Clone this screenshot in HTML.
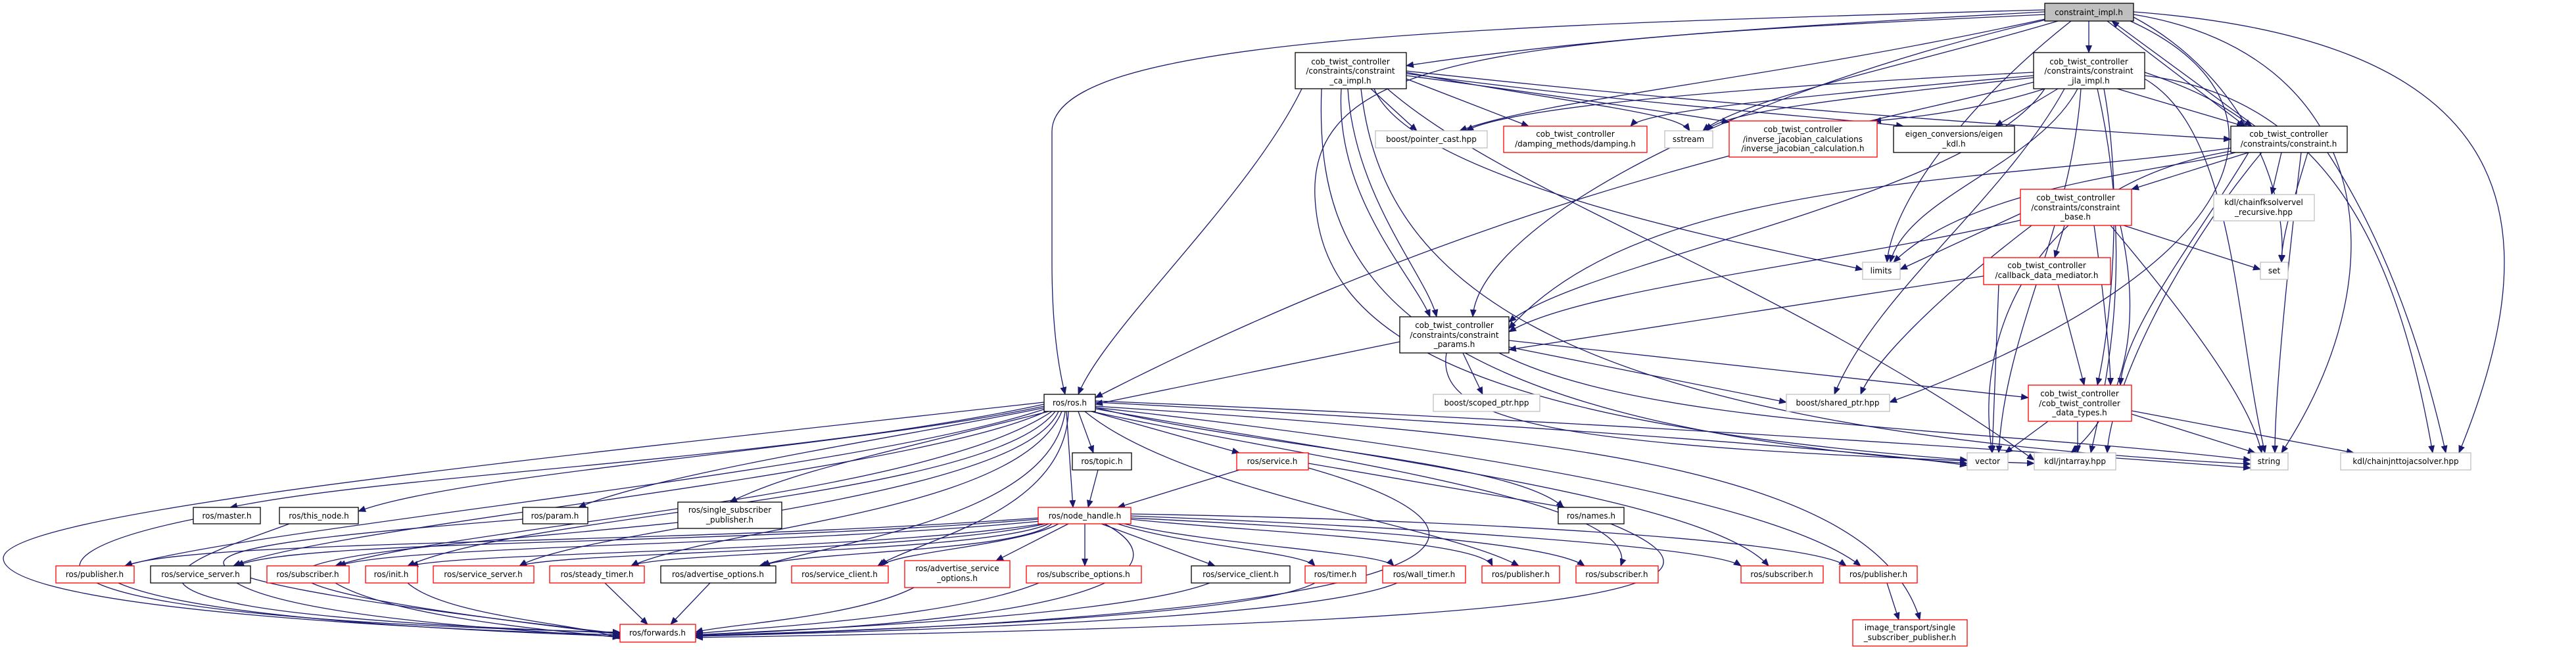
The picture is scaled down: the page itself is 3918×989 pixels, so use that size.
<!DOCTYPE html>
<html><head><meta charset="utf-8"><style>
html,body{margin:0;padding:0;background:#fff;width:3918px;height:989px;overflow:hidden}
svg{display:block}
text{font-family:"DejaVu Sans","Liberation Sans",sans-serif;font-size:12px;fill:#000;text-anchor:middle}
.e{fill:none;stroke:#191970;stroke-width:1.3;marker-end:url(#a)}
.b{fill:#fff;stroke:#000;stroke-width:1.3}
.r{fill:#fff;stroke:#f00;stroke-width:1.3}
.g{fill:#fff;stroke:#bfbfbf;stroke-width:1.3}
</style></head><body>
<svg width="3918" height="989" viewBox="0 0 3918 989" xmlns="http://www.w3.org/2000/svg">
<defs><marker id="a" markerUnits="userSpaceOnUse" markerWidth="12" markerHeight="10" refX="11" refY="5" orient="auto"><path d="M0,0 L12,5 L0,10 z" fill="#191970"/></marker></defs>
<g>
<!-- root edges -->
<path class="e" d="M3110,18 C2700,40 2400,60 2139,100"/>
<path class="e" d="M3177,32 L3177,80"/>
<path class="e" d="M3110,15 C2200,40 1600,60 1600,200 L1600,400 C1600,500 1610,560 1620,600"/>
<path class="e" d="M3115,28 C2700,120 2350,150 2220,199"/>
<path class="e" d="M3130,32 C2900,100 2650,150 2590,199"/>
<path class="e" d="M3205,32 L3415,192"/>
<path class="e" d="M3430,192 L3212,32"/>
<path class="e" d="M3112,30 C2600,150 2250,350 2240,482"/>
<path class="e" d="M3240,32 C3500,150 3450,400 2874,612"/>
<path class="e" d="M3245,22 C3600,80 3660,400 3470,689"/>
<path class="e" d="M3245,18 C3800,60 3900,300 3740,689"/>
<path class="e" d="M3245,26 C3420,120 3480,300 3470,399"/>
<path class="e" d="M3150,32 C3000,150 2880,300 2870,399"/>
<path class="e" d="M3112,22 C2300,60 1990,80 2000,300 C2010,500 2200,640 2992,700"/>
<!-- ca_impl -->
<path class="e" d="M2085,135 L2155,199"/>
<path class="e" d="M2139,120 L2325,192"/>
<path class="e" d="M2139,110 C2400,160 2550,170 2570,199"/>
<path class="e" d="M2139,115 C2400,150 2600,180 2630,186"/>
<path class="e" d="M2139,112 C2500,160 2800,180 2895,192"/>
<path class="e" d="M2139,108 C2700,170 3200,200 3393,212"/>
<path class="e" d="M1980,135 C1900,300 1680,500 1640,600"/>
<path class="e" d="M2040,135 C2030,300 2150,420 2175,482"/>
<path class="e" d="M2050,135 C2060,300 2170,420 2185,482"/>
<path class="e" d="M2090,135 C2150,280 2700,380 2833,410"/>
<path class="e" d="M2110,135 C2300,300 2700,420 3094,700"/>
<path class="e" d="M2010,135 C2000,400 2100,640 2992,705"/>
<path class="e" d="M2070,135 C2100,400 2300,650 3423,706"/>
<!-- jla_impl -->
<path class="e" d="M3093,110 C2700,130 2300,160 2230,199"/>
<path class="e" d="M3093,115 C2700,150 2500,170 2480,192"/>
<path class="e" d="M3093,118 C2800,150 2620,170 2595,199"/>
<path class="e" d="M3110,135 C3000,170 2900,180 2850,184"/>
<path class="e" d="M3130,135 L3035,192"/>
<path class="e" d="M3220,135 L3413,192"/>
<path class="e" d="M3262,110 C3350,140 3380,160 3425,192"/>
<path class="e" d="M3160,135 C3100,250 2900,300 2875,399"/>
<path class="e" d="M3110,135 C3000,300 2400,400 2295,490"/>
<path class="e" d="M3140,135 C3050,300 2850,450 2790,600"/>
<path class="e" d="M3165,135 C3150,350 3050,500 3040,689"/>
<path class="e" d="M3190,135 C3250,400 3200,600 3180,689"/>
<path class="e" d="M3262,120 C3400,200 3400,500 3445,689"/>
<path class="e" d="M3262,115 C3550,150 3650,400 3700,689"/>
<path class="e" d="M3093,125 C2800,200 2300,280 1666,605"/>
<path class="e" d="M3200,135 C3230,300 3210,500 3190,586"/>
<!-- constraint.h -->
<path class="e" d="M3420,232 L3242,288"/>
<path class="e" d="M3470,232 L3455,296"/>
<path class="e" d="M3400,232 C3300,260 3000,280 2880,399"/>
<path class="e" d="M3510,232 C3490,300 3470,360 3470,399"/>
<path class="e" d="M3500,232 C3480,400 3460,600 3460,689"/>
<path class="e" d="M3540,232 C3650,400 3700,600 3720,689"/>
<path class="e" d="M3420,232 C3350,350 3230,500 3225,586"/>
<path class="e" d="M3395,225 C3000,280 2500,270 2295,500"/>
<path class="e" d="M3393,230 C3100,280 3000,500 3030,689"/>
<path class="e" d="M3440,232 C3300,400 3210,600 3205,689"/>
<!-- constraint_base -->
<path class="e" d="M3073,325 L2890,410"/>
<path class="e" d="M3140,343 L3125,392"/>
<path class="e" d="M3230,343 L3438,410"/>
<path class="e" d="M3073,335 C2800,400 2400,440 2295,505"/>
<path class="e" d="M3090,343 C2950,450 2850,550 2830,600"/>
<path class="e" d="M3185,343 C3200,450 3210,550 3210,586"/>
<path class="e" d="M3210,343 C3300,450 3420,600 3440,689"/>
<path class="e" d="M3225,343 C3260,500 3230,620 3150,689"/>
<!-- callback -->
<path class="e" d="M3017,420 L2295,532"/>
<path class="e" d="M3130,433 L3170,586"/>
<path class="e" d="M3040,433 L3030,689"/>
<!-- params -->
<path class="e" d="M2129,520 L1666,615"/>
<path class="e" d="M2225,537 L2255,600"/>
<path class="e" d="M2295,528 L2717,612"/>
<path class="e" d="M2295,518 L3085,605"/>
<path class="e" d="M2280,537 C2500,650 3000,650 3423,700"/>
<path class="e" d="M2200,537 C2180,650 2400,680 3094,705"/>
<!-- data types -->
<path class="e" d="M3115,641 L3050,689"/>
<path class="e" d="M3160,641 L3160,689"/>
<path class="e" d="M3242,630 L3430,689"/>
<path class="e" d="M3242,625 L3580,689"/>
<!-- ros.h -->
<path class="e" d="M1588,615 C1200,700 600,720 350,772"/>
<path class="e" d="M1588,618 C1300,680 700,720 545,778"/>
<path class="e" d="M1590,620 C1400,660 1000,720 880,772"/>
<path class="e" d="M1595,626 C1300,700 1200,720 1110,764"/>
<path class="e" d="M1622,626 L1632,772"/>
<path class="e" d="M1640,626 L1663,689"/>
<path class="e" d="M1660,626 L1885,689"/>
<path class="e" d="M1666,620 C1900,680 2300,700 2378,772"/>
<path class="e" d="M1590,622 C1300,720 400,800 190,861"/>
<path class="e" d="M1595,624 C1400,720 500,800 355,861"/>
<path class="e" d="M1600,626 C1400,760 700,800 510,861"/>
<path class="e" d="M1605,626 C1500,760 800,780 620,861"/>
<path class="e" d="M1610,626 C1550,760 900,800 790,861"/>
<path class="e" d="M1615,626 C1550,780 1100,800 960,861"/>
<path class="e" d="M1620,626 C1600,780 1300,820 1155,861"/>
<path class="e" d="M1625,626 C1620,780 1400,820 1335,861"/>
<path class="e" d="M1650,626 C1800,750 2200,800 2310,861"/>
<path class="e" d="M1660,626 C2000,700 2500,760 2465,861"/>
<path class="e" d="M1666,622 C2100,700 2600,760 2690,861"/>
<path class="e" d="M1666,620 C2200,680 2700,760 2830,861"/>
<path class="e" d="M1666,618 C2300,660 2850,700 2920,943"/>
<path class="e" d="M1666,612 C2200,640 2800,680 2992,708"/>
<path class="e" d="M1666,610 C2400,640 3000,680 3423,712"/>
<path class="e" d="M1588,612 C800,700 0,780 5,850 C10,930 700,960 943,966"/>
<!-- topic/service -->
<path class="e" d="M1670,715 L1655,772"/>
<path class="e" d="M1885,715 L1700,772"/>
<path class="e" d="M1990,705 L2380,772"/>
<path class="e" d="M1990,712 C2300,800 2350,930 1058,968"/>
<!-- node_handle -->
<path class="e" d="M1579,788 C1000,830 300,820 190,861"/>
<path class="e" d="M1579,790 C1100,830 450,820 360,861"/>
<path class="e" d="M1582,793 C1200,830 600,830 515,861"/>
<path class="e" d="M1585,797 C1300,840 700,840 625,861"/>
<path class="e" d="M1590,797 C1400,840 850,840 790,861"/>
<path class="e" d="M1595,797 C1500,840 1000,840 960,861"/>
<path class="e" d="M1600,797 C1550,840 1200,840 1160,861"/>
<path class="e" d="M1610,797 C1550,830 1360,840 1340,861"/>
<path class="e" d="M1625,797 L1515,853"/>
<path class="e" d="M1650,797 L1650,861"/>
<path class="e" d="M1675,797 L1848,861"/>
<path class="e" d="M1700,797 C1800,830 1980,840 2000,861"/>
<path class="e" d="M1710,797 C1850,830 2100,840 2120,861"/>
<path class="e" d="M1720,790 C1900,810 2250,820 2270,861"/>
<path class="e" d="M1720,788 C1950,800 2350,820 2410,861"/>
<path class="e" d="M1720,785 C2100,800 2600,830 2648,861"/>
<path class="e" d="M1720,782 C2200,790 2750,820 2808,861"/>
<path class="e" d="M1680,797 C1780,850 1760,940 1058,966"/>
<!-- row -> forwards -->
<path class="e" d="M294,790 C0,850 0,940 943,962"/>
<path class="e" d="M440,797 C300,850 -20,930 943,963"/>
<path class="e" d="M795,790 C300,830 30,860 943,964"/>
<path class="e" d="M1031,795 C600,840 40,860 943,965"/>
<path class="e" d="M180,887 C300,940 700,960 943,968"/>
<path class="e" d="M360,887 C450,940 800,960 943,969"/>
<path class="e" d="M510,887 C600,940 850,960 943,970"/>
<path class="e" d="M620,887 C680,940 900,950 943,972"/>
<path class="e" d="M920,887 L985,950"/>
<path class="e" d="M1080,887 L1020,950"/>
<path class="e" d="M1390,894 C1300,940 1100,950 1058,962"/>
<path class="e" d="M1580,887 C1450,940 1150,955 1058,964"/>
<path class="e" d="M1840,887 C1700,940 1200,958 1058,966"/>
<path class="e" d="M2000,887 C1900,940 1300,960 1058,967"/>
<path class="e" d="M2125,887 C2000,940 1400,960 1058,968"/>
<path class="e" d="M2450,797 C2700,900 2400,950 1058,970"/>
<path class="e" d="M2870,887 L2888,943"/>
</g>
<g>
<rect x="3110" y="5" width="135" height="27" fill="#bfbfbf" stroke="#000" stroke-width="1.3"/><text x="3177" y="23">constraint_impl.h</text>
<rect class="b" x="1970" y="80" width="169" height="55"/><text x="2054" y="98">cob_twist_controller</text><text x="2054" y="112">/constraints/constraint</text><text x="2054" y="127">_ca_impl.h</text>
<rect class="b" x="3093" y="80" width="169" height="55"/><text x="3177" y="98">cob_twist_controller</text><text x="3177" y="112">/constraints/constraint</text><text x="3177" y="127">_jla_impl.h</text>
<rect class="g" x="2092" y="199" width="170" height="26"/><text x="2177" y="216">boost/pointer_cast.hpp</text>
<rect class="r" x="2287" y="192" width="218" height="40"/><text x="2396" y="208">cob_twist_controller</text><text x="2396" y="223">/damping_methods/damping.h</text>
<rect class="g" x="2532" y="199" width="73" height="26"/><text x="2568" y="216">sstream</text>
<rect class="r" x="2630" y="184" width="225" height="55"/><text x="2742" y="201">cob_twist_controller</text><text x="2742" y="216">/inverse_jacobian_calculations</text><text x="2742" y="230">/inverse_jacobian_calculation.h</text>
<rect class="b" x="2880" y="192" width="184" height="40"/><text x="2972" y="208">eigen_conversions/eigen</text><text x="2972" y="223">_kdl.h</text>
<rect class="b" x="3393" y="192" width="177" height="40"/><text x="3481" y="208">cob_twist_controller</text><text x="3481" y="223">/constraints/constraint.h</text>
<rect class="r" x="3073" y="288" width="169" height="55"/><text x="3157" y="305">cob_twist_controller</text><text x="3157" y="320">/constraints/constraint</text><text x="3157" y="334">_base.h</text>
<rect class="g" x="3367" y="296" width="153" height="40"/><text x="3443" y="312">kdl/chainfksolvervel</text><text x="3443" y="327">_recursive.hpp</text>
<rect class="g" x="2833" y="399" width="57" height="26"/><text x="2861" y="416">limits</text>
<rect class="r" x="3017" y="392" width="193" height="41"/><text x="3113" y="408">cob_twist_controller</text><text x="3113" y="423">/callback_data_mediator.h</text>
<rect class="g" x="3438" y="399" width="42" height="26"/><text x="3459" y="416">set</text>
<rect class="b" x="2129" y="482" width="166" height="55"/><text x="2212" y="499">cob_twist_controller</text><text x="2212" y="514">/constraints/constraint</text><text x="2212" y="528">_params.h</text>
<rect class="g" x="2180" y="600" width="162" height="26"/><text x="2261" y="617">boost/scoped_ptr.hpp</text>
<rect class="g" x="2717" y="600" width="157" height="26"/><text x="2795" y="617">boost/shared_ptr.hpp</text>
<rect class="r" x="3085" y="586" width="157" height="55"/><text x="3163" y="603">cob_twist_controller</text><text x="3163" y="618">/cob_twist_controller</text><text x="3163" y="632">_data_types.h</text>
<rect class="g" x="2992" y="689" width="62" height="26"/><text x="3023" y="706">vector</text>
<rect class="g" x="3094" y="689" width="124" height="26"/><text x="3156" y="706">kdl/jntarray.hpp</text>
<rect class="g" x="3423" y="689" width="57" height="26"/><text x="3451" y="706">string</text>
<rect class="g" x="3560" y="689" width="198" height="26"/><text x="3659" y="706">kdl/chainjnttojacsolver.hpp</text>
<rect class="b" x="1588" y="600" width="78" height="26"/><text x="1627" y="617">ros/ros.h</text>
<rect class="b" x="1631" y="689" width="90" height="26"/><text x="1676" y="706">ros/topic.h</text>
<rect class="r" x="1881" y="689" width="109" height="26"/><text x="1935" y="706">ros/service.h</text>
<rect class="b" x="2370" y="772" width="100" height="25"/><text x="2420" y="789">ros/names.h</text>
<rect class="b" x="294" y="772" width="102" height="25"/><text x="345" y="789">ros/master.h</text>
<rect class="b" x="425" y="772" width="120" height="25"/><text x="485" y="789">ros/this_node.h</text>
<rect class="b" x="795" y="772" width="99" height="25"/><text x="844" y="789">ros/param.h</text>
<rect class="b" x="1031" y="764" width="158" height="40"/><text x="1110" y="780">ros/single_subscriber</text><text x="1110" y="795">_publisher.h</text>
<rect class="r" x="1579" y="772" width="141" height="25"/><text x="1650" y="789">ros/node_handle.h</text>
<rect class="r" x="85" y="861" width="119" height="26"/><text x="144" y="878">ros/publisher.h</text>
<rect class="b" x="229" y="861" width="152" height="26"/><text x="305" y="878">ros/service_server.h</text>
<rect class="r" x="406" y="861" width="125" height="26"/><text x="468" y="878">ros/subscriber.h</text>
<rect class="r" x="556" y="861" width="79" height="26"/><text x="595" y="878">ros/init.h</text>
<rect class="r" x="659" y="861" width="153" height="26"/><text x="735" y="878">ros/service_server.h</text>
<rect class="r" x="836" y="861" width="144" height="26"/><text x="908" y="878">ros/steady_timer.h</text>
<rect class="b" x="1005" y="861" width="175" height="26"/><text x="1092" y="878">ros/advertise_options.h</text>
<rect class="r" x="1204" y="861" width="147" height="26"/><text x="1277" y="878">ros/service_client.h</text>
<rect class="r" x="1376" y="853" width="160" height="41"/><text x="1456" y="869">ros/advertise_service</text><text x="1456" y="884">_options.h</text>
<rect class="r" x="1561" y="861" width="175" height="26"/><text x="1648" y="878">ros/subscribe_options.h</text>
<rect class="b" x="1812" y="861" width="150" height="26"/><text x="1887" y="878">ros/service_client.h</text>
<rect class="r" x="1985" y="861" width="93" height="26"/><text x="2031" y="878">ros/timer.h</text>
<rect class="r" x="2103" y="861" width="126" height="26"/><text x="2166" y="878">ros/wall_timer.h</text>
<rect class="r" x="2254" y="861" width="118" height="26"/><text x="2313" y="878">ros/publisher.h</text>
<rect class="r" x="2397" y="861" width="125" height="26"/><text x="2459" y="878">ros/subscriber.h</text>
<rect class="r" x="2648" y="861" width="125" height="26"/><text x="2710" y="878">ros/subscriber.h</text>
<rect class="r" x="2798" y="861" width="118" height="26"/><text x="2857" y="878">ros/publisher.h</text>
<rect class="r" x="943" y="950" width="115" height="27"/><text x="1000" y="967">ros/forwards.h</text>
<rect class="r" x="2818" y="943" width="174" height="40"/><text x="2905" y="959">image_transport/single</text><text x="2905" y="974">_subscriber_publisher.h</text>
</g>
</svg>
</body></html>
